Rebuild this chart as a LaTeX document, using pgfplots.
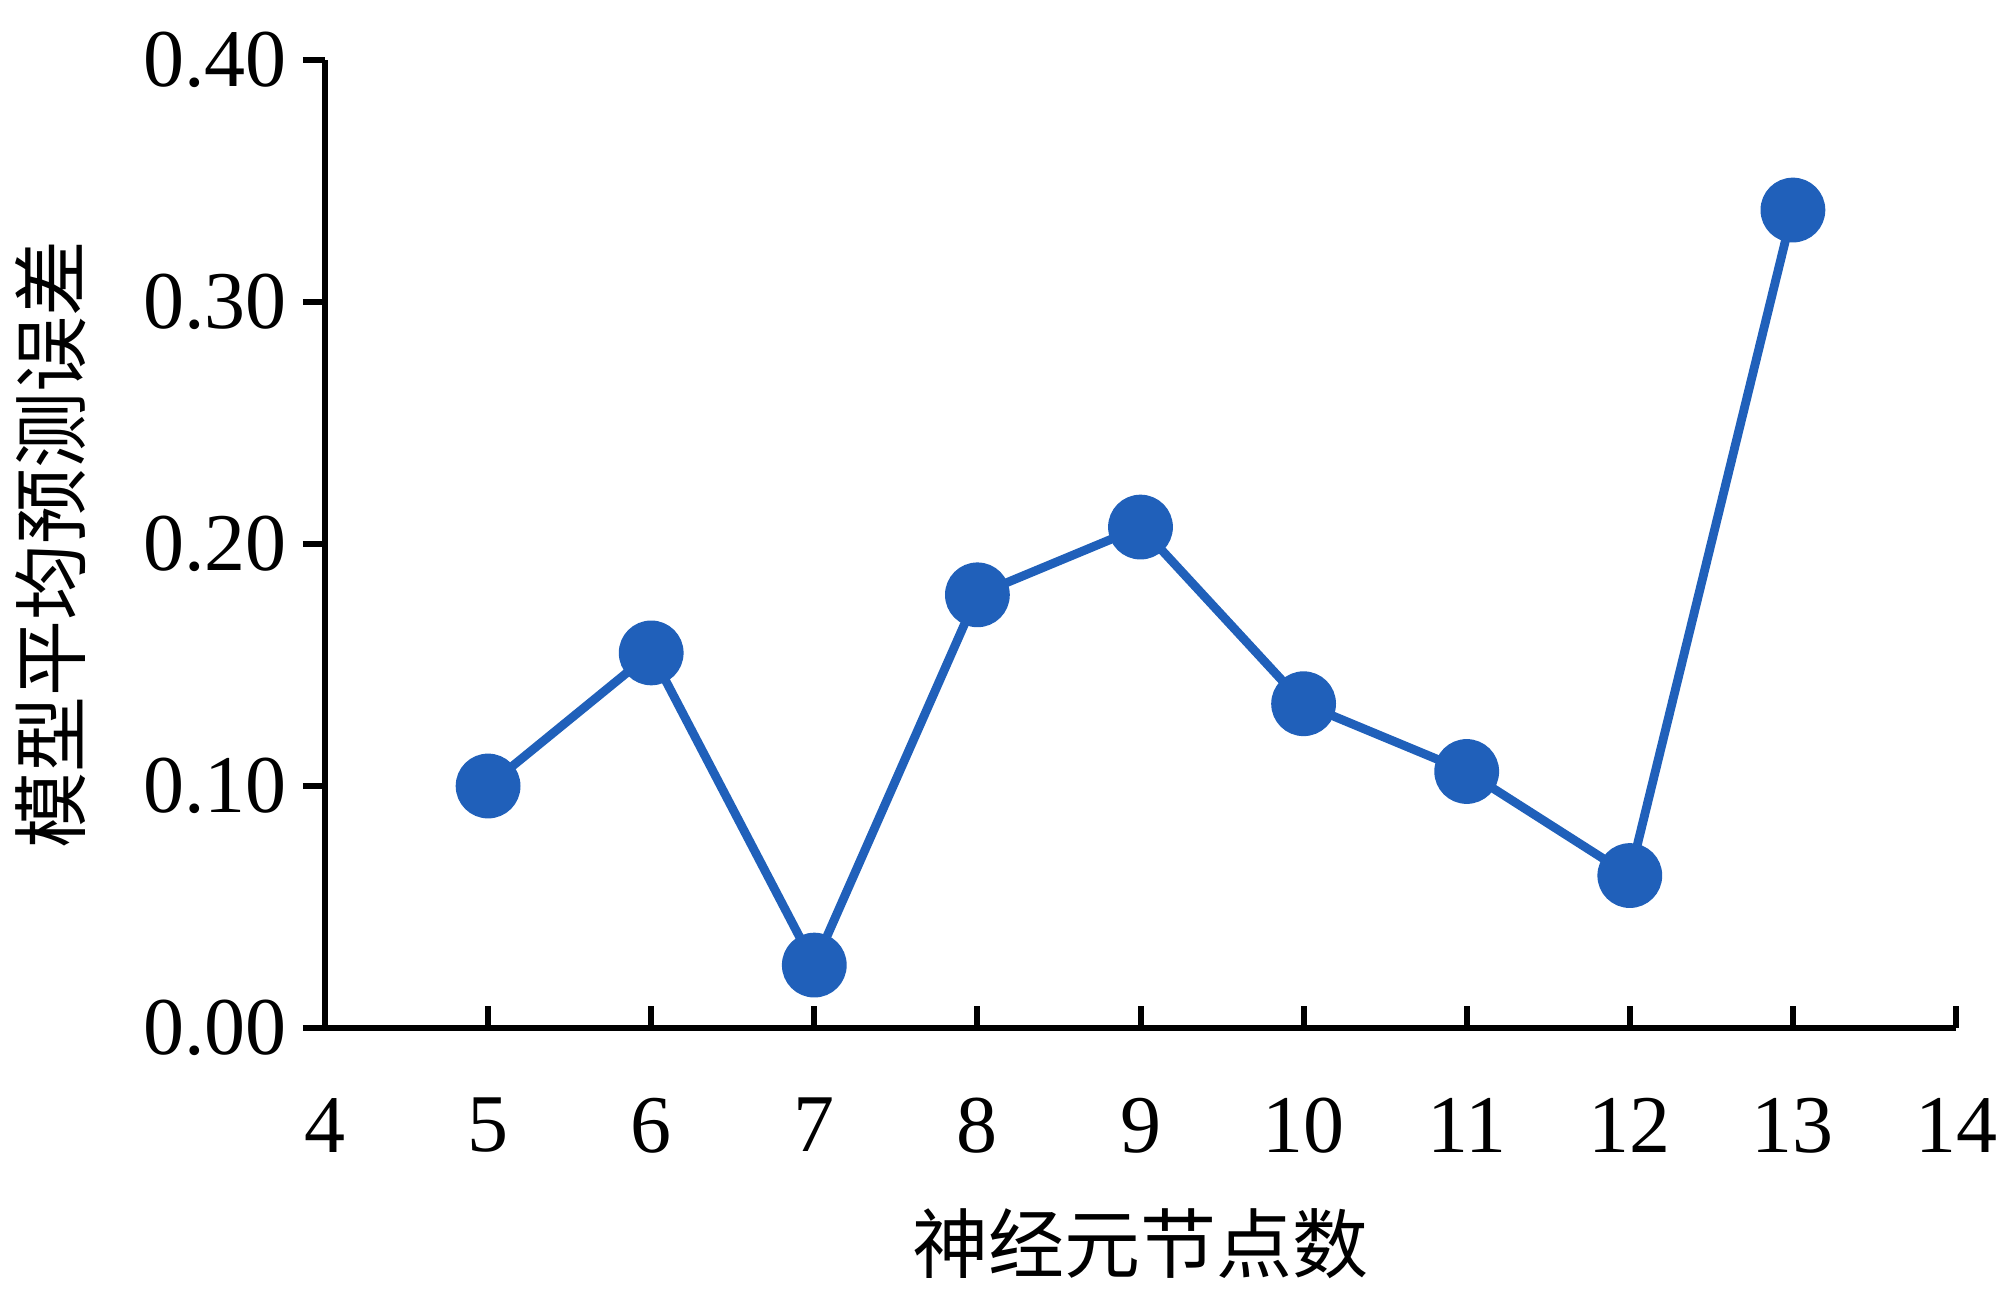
\documentclass[border=0pt]{standalone}
\usepackage{pgfplots}
\pgfplotsset{compat=1.18}
\usetikzlibrary{calc}
\usepackage{fontspec}
\setmainfont{Liberation Serif}
\newfontfamily\cjk{Noto Sans CJK SC}
\definecolor{ser}{RGB}{32,96,186}
\begin{document}
\begin{tikzpicture}
\begin{axis}[name=ax,
  scale only axis, width=407.75pt, height=242pt,
  xmin=4, xmax=14, ymin=0, ymax=0.4,
  axis lines=left, axis line style={-, line width=1.6pt},
  xtick={4,...,14}, ytick={0,0.1,0.2,0.3,0.4},
  tick align=inside, major tick length=5.5pt,
  every tick/.style={black, line width=1.5pt},
  y tick style={xshift=-5.5pt},
  /pgf/number format/assume math mode=true,
  ticklabel style={font=\fontsize{20.5}{24}\selectfont},
  yticklabel={\pgfmathprintnumber[fixed,fixed zerofill,precision=2]{\tick}},
  yticklabel style={xshift=-6pt},
  xticklabel style={yshift=-14pt},
  xlabel={\cjk 神经元节点数}, ylabel={\cjk 模型平均预测误差},
  label style={font=\fontsize{19}{22}\selectfont},
  xlabel style={at={(axis description cs:0.5,-0.223)}, anchor=center},
  ylabel style={at={(axis description cs:-0.168,0.5)}, anchor=center},
  clip=false,
]
\addplot[ser, line width=2.2pt, mark=*, mark size=7pt, mark options={fill=ser, draw=ser}]
coordinates {(5,0.100) (6,0.155) (7,0.026) (8,0.179) (9,0.207) (10,0.134) (11,0.106) (12,0.063) (13,0.338)};
\end{axis}
\pgfresetboundingbox
\path ($(ax.south west)+(-81.25pt,-67.75pt)$) rectangle ++(500.5pt,324.75pt);
\end{tikzpicture}
\end{document}
